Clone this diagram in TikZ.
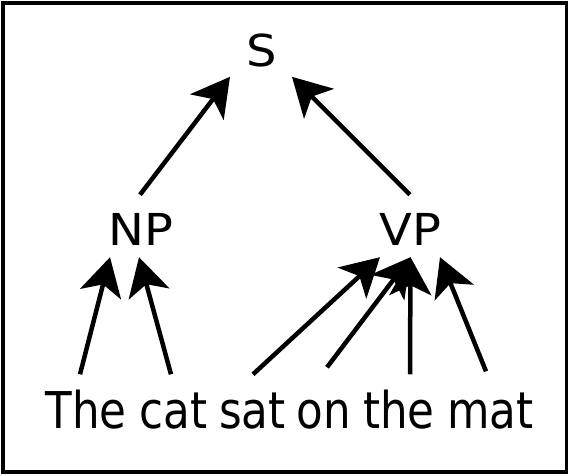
\documentclass[tikz,border=0pt]{standalone}
\usepackage{fontspec}
\setmainfont{DejaVu Sans}
\newfontfamily\labelfont[FakeStretch=1.09]{DejaVu Sans}
\newfontfamily\wordfont[FakeStretch=0.86]{DejaVu Sans}
\usetikzlibrary{arrows.meta}

\begin{document}
\begin{tikzpicture}[x=1pt,y=1pt,
  lbl/.style={inner sep=0pt,anchor=base,font=\labelfont\fontsize{44pt}{48pt}\selectfont},
  word/.style={inner sep=0pt,anchor=base,text height=38.5pt,font=\wordfont\fontsize{50.7pt}{56pt}\selectfont},
  arr/.style={line width=4.5pt,-{Stealth[length=38pt,width=42pt,inset=10pt]}}]
  \useasboundingbox (0,0) rectangle (568,475);
  \draw[line width=3.2pt] (3,3) rectangle (566.5,472);
  \def\base{47} % sentence baseline
  \def\gap{-12} % arrow tips below NP/VP
  \node[lbl] (S) at (262,408) {S};
  \node[lbl] (NP) at (141,230) {NP};
  \node[lbl] (VP) at (410.5,230) {VP};
  \draw[arr] ([shift={(-1,18)}]NP.north) -- ([shift={(-32,-9)}]S.south);
  \draw[arr] ([shift={(-0.5,18)}]VP.north) -- ([shift={(30,-9)}]S.south);
  \foreach \w/\x in {The/86,cat/173.5,sat/252.5,on/323.5,the/399,mat/490.5}{
    \node[word] (\w) at (\x,\base) {\w};
  }
  \foreach \w/\dx/\dy/\p/\px in {The/-6/15/NP/-31,cat/-2.5/15/NP/-2,sat/0.5/15/VP/-30.5,on/3.5/22/VP/0,the/11/15/VP/0,mat/-4.5/18/VP/29.5}{
    \draw[arr] ([shift={(\dx,\dy)}]\w.north) -- ([shift={(\px,\gap)}]\p.south);
  }
\end{tikzpicture}
\end{document}
